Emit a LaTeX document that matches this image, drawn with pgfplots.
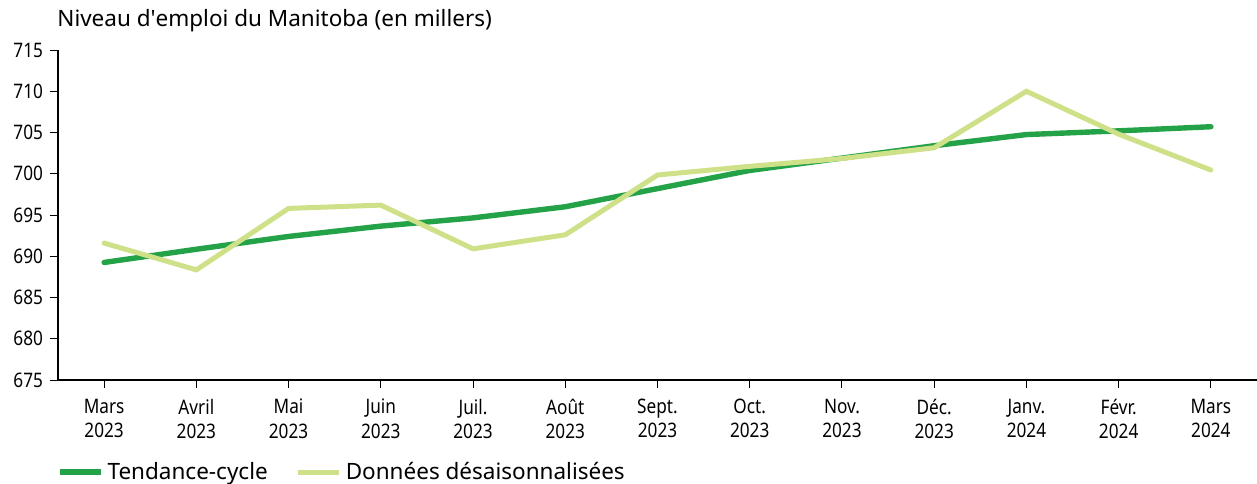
\documentclass[border=0pt]{standalone}
\usepackage{pgfplots}
\pgfplotsset{compat=1.18}
\usepackage{fontspec}
\setmainfont{Noto Sans}
\newfontfamily\condfont[FakeStretch=0.86]{Noto Sans}
\definecolor{trend}{RGB}{36,162,72}
\definecolor{sadj}{RGB}{206,225,137}
\begin{document}
\begin{tikzpicture}
\path[use as bounding box] (-29pt,-51.5pt) rectangle (599.5pt,190pt);
\begin{axis}[
  at={(0,0)}, anchor=south west,
  scale only axis, width=599.5pt, height=165pt,
  xmin=-0.5, xmax=12.5, ymin=675, ymax=715,
  axis x line=bottom, axis y line=left,
  axis line style={-, line width=0.7pt, black},
  xtick={0,...,12}, ytick={675,680,...,715},
  xticklabels={{Mars\\2023},{Avril\\2023},{Mai\\2023},{Juin\\2023},{Juil.\\2023},{Août\\2023},{Sept.\\2023},{Oct.\\2023},{Nov.\\2023},{Déc.\\2023},{Janv.\\2024},{Févr.\\2024},{Mars\\2024}},
  x tick label style={font=\condfont\fontsize{10}{12.2}\selectfont, align=center, yshift=-2pt},
  y tick label style={font=\condfont\fontsize{10}{12}\selectfont},
  /pgf/number format/assume math mode=true,
  yticklabel style={/pgf/number format/fixed},
  tick align=outside, major tick length=4pt,
  tick style={line width=0.5pt, black},
  legend columns=2,
  legend style={draw=none, fill=none, inner sep=0pt,
    at={(axis description cs:-0.001,-0.279)}, anchor=west,
    font=\fontsize{11.25}{13}\selectfont,
    /tikz/every even column/.append style={column sep=12pt}},
  legend image code/.code={\draw[#1, line cap=butt] (0pt,0pt) -- (20.5pt,0pt);},
  clip=false,
]
\addplot[trend, line width=2.7pt, line cap=round, line join=round] coordinates {
(0,689.25) (1,690.85) (2,692.4) (3,693.65) (4,694.65) (5,696.0) (6,698.2) (7,700.4) (8,701.9) (9,703.4) (10,704.75) (11,705.2) (12,705.7)
};
\addlegendentry{Tendance-cycle}
\addplot[sadj, line width=2.5pt, line cap=round, line join=miter] coordinates {
(0,691.6) (1,688.35) (2,695.8) (3,696.2) (4,690.9) (5,692.6) (6,699.85) (7,700.9) (8,701.85) (9,703.15) (10,710.0) (11,704.8) (12,700.45)
};
\addlegendentry{Données désaisonnalisées}
\end{axis}
\node[anchor=base west, inner sep=0pt, font=\fontsize{11.25}{13}\selectfont] at (-0.5pt,176.5pt) {Niveau d\textquotesingle emploi du Manitoba (en millers)};
\end{tikzpicture}
\end{document}
